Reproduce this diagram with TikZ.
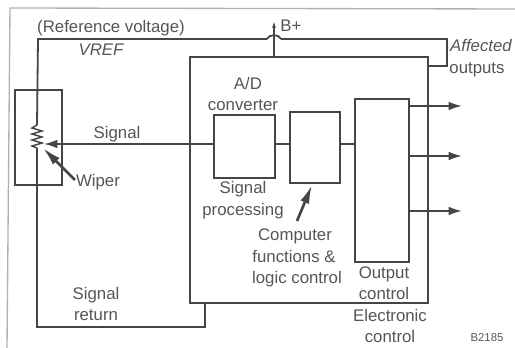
\documentclass[tikz,border=0pt]{standalone}
\usepackage{fontspec}
\setmainfont{Liberation Sans}
\usetikzlibrary{arrows.meta}
\definecolor{inkline}{HTML}{454545}
\definecolor{inktext}{HTML}{555555}
\definecolor{scanedge}{HTML}{B0B0B0}
\tikzset{
    wire/.style={draw=inkline, line width=1.35pt},
    block/.style={wire, rectangle, inner sep=0pt},
    lbl/.style={text=inktext, font=\fontsize{12.6}{12.6}\selectfont, inner sep=0pt, anchor=base},
    tip/.style={-{Latex[length=10pt,width=6.5pt]}}
}
\begin{document}
\begin{tikzpicture}[x=0.75pt,y=-0.75pt]
            \useasboundingbox (0,0) rectangle (515,348);

            % scan frame
            \coordinate (framea) at (7,348);
            \coordinate (frameb) at (10,8);
            \coordinate (framec) at (515,9);
            \draw [scanedge, line width=1pt] (framea) -- (frameb) -- (framec);

            % blocks
            \node [block, minimum width=238*0.75pt, minimum height=246*0.75pt] (ecu) at (309,180) {};
            \node [block, minimum width=47*0.75pt, minimum height=95*0.75pt] (pot) at (38.5,137.5) {};
            \node [block, minimum width=61*0.75pt, minimum height=63*0.75pt] (ad) at (244.5,146.5) {};
            \node [block, minimum width=50*0.75pt, minimum height=71*0.75pt] (logic) at (315,147.5) {};
            \node [block, minimum width=54*0.75pt, minimum height=163*0.75pt] (outctl) at (382,180.5) {};

            % reference voltage wire
            \coordinate (rtop) at (37,125);
            \coordinate (rbot) at (37,148);
            \coordinate (vrefa) at (38,39);
            \coordinate (hopa) at (267,39);
            \coordinate (hopb) at (281,39);
            \coordinate (vrefb) at (447,39);
            \coordinate (vrefc) at (447,66);
            \draw [wire] (rtop) -- (vrefa) -- (hopa);
            \draw [wire] (hopa) to[bend left=70] (hopb);
            \draw [wire] (hopb) -- (vrefb) -- (vrefc) -- (vrefc -| ecu.east);

            % B+ feed
            \coordinate (bplus) at (274,21);
            \draw [wire, -{Latex[length=5pt,width=3pt]}] (bplus |- ecu.north) -- (bplus);

            % resistor
            \draw [wire, line width=1.1pt] (rtop) -- (32,128) -- (42,131) -- (32,134) -- (42,137)
                -- (32,140) -- (42,143) -- (32,146) -- (rbot);

            % signal return
            \coordinate (reta) at (37,327);
            \coordinate (retb) at (205,327);
            \draw [wire] (rbot) -- (reta) -- (retb) -- (retb |- ecu.south);

            % signal path
            \coordinate (sigtip) at (44,144);
            \draw [wire, tip] (sigtip -| ad.west) -- (sigtip);
            \draw [wire] (sigtip -| ad.east) -- (sigtip -| logic.west);
            \draw [wire] (sigtip -| logic.east) -- (sigtip -| outctl.west);

            % outputs
            \coordinate (outa) at (462,106);
            \coordinate (outb) at (462,156);
            \coordinate (outc) at (462,211);
            \draw [wire, tip] (outa -| outctl.east) -- (outa);
            \draw [wire, tip] (outb -| outctl.east) -- (outb);
            \draw [wire, tip] (outc -| outctl.east) -- (outc);

            % pointers
            \coordinate (wipera) at (75,180);
            \coordinate (wiperb) at (43,148);
            \coordinate (compa) at (297,221);
            \coordinate (compb) at (312,185);
            \draw [wire, line width=2pt, -{Latex[length=14pt,width=7pt]}] (wipera) -- (wiperb);
            \draw [wire, line width=2pt, -{Latex[length=14pt,width=7pt]}] (compa) -- (compb);

            % labels
            \node [lbl] (lref) at (111,33) {(Reference voltage)};
            \node [lbl] (lvref) at (101,56) {\itshape VREF};
            \node [lbl] (lbp) at (291,32) {B+};
            \node [lbl] (laff) at (481,52) {\itshape Affected};
            \node [lbl] (lout) at (477,74) {outputs};
            \node [lbl] (lad) at (248,90) {A/D};
            \node [lbl] (lconv) at (243,111) {converter};
            \node [lbl] (lsig) at (117,139) {Signal};
            \node [lbl] (lwip) at (98,187) {Wiper};
            \node [lbl] (lproc) at (243,194) {Signal};
            \node [lbl] (lproct) at (243,216) {processing};
            \node [lbl] (lcomp) at (295,241) {Computer};
            \node [lbl] (lfunc) at (294,263) {functions \&};
            \node [lbl] (llog) at (297,284) {logic control};
            \node [lbl] (loc) at (384,279) {Output};
            \node [lbl] (locb) at (384,300) {control};
            \node [lbl] (lel) at (390,322) {Electronic};
            \node [lbl] (lelb) at (390,343) {control};
            \node [lbl] (lret) at (96,300) {Signal};
            \node [lbl] (lretb) at (96,321) {return};
            \node [lbl, font=\fontsize{8.5}{8.5}\selectfont] (lcode) at (487,342) {B2185};
        \end{tikzpicture}
\end{document}
